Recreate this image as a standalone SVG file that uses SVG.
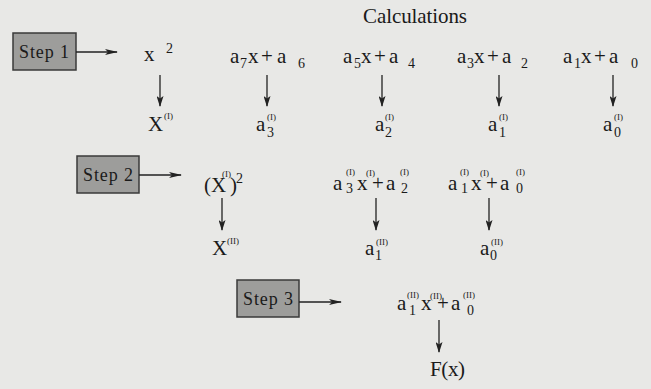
<svg xmlns="http://www.w3.org/2000/svg" width="651" height="389" viewBox="0 0 651 389">
<defs>
<marker id="h" viewBox="0 0 13 6" refX="12" refY="3" markerWidth="13" markerHeight="6" markerUnits="userSpaceOnUse" orient="auto"><path d="M0,0 L13,3 L0,6 L3,3 z" fill="#222"/></marker>
<marker id="d" viewBox="0 0 11 7" refX="10" refY="3.5" markerWidth="11" markerHeight="7" markerUnits="userSpaceOnUse" orient="auto"><path d="M0,0 L11,3.5 L0,7 L2.5,3.5 z" fill="#222"/></marker>
</defs>
<rect width="651" height="389" fill="#e8e8e6"/>
<g font-family="Liberation Serif" fill="#1a1a1a">
<text id="title" font-size="21" x="363" y="23" textLength="104">Calculations</text>

<g id="step1"><rect fill="#9d9d9b" stroke="#3a3a3a" stroke-width="1.5" x="13" y="33" width="63" height="37"/><text font-size="18" x="19" y="58" textLength="50">Step 1</text></g>
<g id="step2"><rect fill="#9d9d9b" stroke="#3a3a3a" stroke-width="1.5" x="77" y="156" width="62" height="37"/><text font-size="18" x="83" y="181" textLength="50">Step 2</text></g>
<g id="step3"><rect fill="#9d9d9b" stroke="#3a3a3a" stroke-width="1.5" x="237" y="280" width="62" height="37"/><text font-size="18" x="243" y="305" textLength="50">Step 3</text></g>

<g id="r1a" font-size="21"><text x="144" y="61">x</text><text font-size="14" x="166" y="53">2</text></g>
<g id="r1b" font-size="21"><text x="230" y="63">a</text><text font-size="14" x="240" y="68">7</text><text x="248" y="63">x</text><text x="261" y="63">+</text><text x="277" y="63">a</text><text font-size="14" x="298" y="68">6</text></g>
<g id="r1c" font-size="21"><text x="343" y="63">a</text><text font-size="14" x="354" y="68">5</text><text x="361" y="63">x</text><text x="374" y="63">+</text><text x="389" y="63">a</text><text font-size="14" x="408" y="68">4</text></g>
<g id="r1d" font-size="21"><text x="457" y="63">a</text><text font-size="14" x="467" y="68">3</text><text x="474" y="63">x</text><text x="487" y="63">+</text><text x="502" y="63">a</text><text font-size="14" x="521" y="68">2</text></g>
<g id="r1e" font-size="21"><text x="563" y="63">a</text><text font-size="14" x="574" y="68">1</text><text x="581" y="63">x</text><text x="594" y="63">+</text><text x="609" y="63">a</text><text font-size="14" x="631" y="68">0</text></g>

<g id="r2a" font-size="21"><text x="148" y="131">X</text><text font-size="9" x="164" y="119">(I)</text></g>
<g id="r2b" font-size="21"><text x="256" y="131">a</text><text font-size="14" x="267" y="137">3</text><text font-size="9" x="267" y="120">(I)</text></g>
<g id="r2c" font-size="21"><text x="375" y="131">a</text><text font-size="14" x="385" y="137">2</text><text font-size="9" x="385" y="120">(I)</text></g>
<g id="r2d" font-size="21"><text x="488" y="131">a</text><text font-size="14" x="499" y="137">1</text><text font-size="9" x="499" y="120">(I)</text></g>
<g id="r2e" font-size="21"><text x="603" y="131">a</text><text font-size="14" x="614" y="137">0</text><text font-size="9" x="614" y="120">(I)</text></g>

<g id="s2a" font-size="21"><text x="204" y="192">(X</text><text font-size="9" x="222" y="177">(I)</text><text x="230" y="192">)</text><text font-size="14" x="236" y="183">2</text></g>
<g id="s2b" font-size="21"><text x="333" y="190">a</text><text font-size="9" x="346" y="175">(I)</text><text font-size="14" x="346" y="193">3</text><text x="357" y="190">x</text><text font-size="9" x="366" y="176">(I)</text><text x="372" y="190">+</text><text x="386" y="190">a</text><text font-size="9" x="400" y="175">(I)</text><text font-size="14" x="401" y="193">2</text></g>
<g id="s2c" font-size="21"><text x="448" y="190">a</text><text font-size="9" x="460" y="175">(I)</text><text font-size="14" x="461" y="193">1</text><text x="471" y="190">x</text><text font-size="9" x="480" y="176">(I)</text><text x="486" y="190">+</text><text x="500" y="190">a</text><text font-size="9" x="516" y="175">(I)</text><text font-size="14" x="516" y="193">0</text></g>
<g id="s2d" font-size="21"><text x="212" y="255">X</text><text font-size="9" x="227" y="244">(II)</text></g>
<g id="s2e" font-size="21"><text x="365" y="255">a</text><text font-size="14" x="375" y="260">1</text><text font-size="9" x="376" y="245">(II)</text></g>
<g id="s2f" font-size="21"><text x="480" y="255">a</text><text font-size="14" x="490" y="260">0</text><text font-size="9" x="491" y="245">(II)</text></g>

<g id="s3a" font-size="21"><text x="397" y="310">a</text><text font-size="9" x="407" y="298">(II)</text><text font-size="14" x="409" y="315">1</text><text x="421" y="310">x</text><text font-size="9" x="430" y="299">(II)</text><text x="437" y="310">+</text><text x="451" y="310">a</text><text font-size="9" x="463" y="298">(II)</text><text font-size="14" x="467" y="315">0</text></g>
<g id="s3b" font-size="21"><text x="430" y="376" textLength="35">F(x)</text></g>
</g>

<g id="connectors" stroke="#222" stroke-width="1.3" fill="none">
<line x1="76" y1="52" x2="117" y2="52" marker-end="url(#h)"/>
<line x1="139" y1="175" x2="181" y2="175" marker-end="url(#h)"/>
<line x1="299" y1="302" x2="341" y2="302" marker-end="url(#h)"/>
<line x1="160" y1="75" x2="160" y2="106" marker-end="url(#d)"/>
<line x1="267" y1="75" x2="267" y2="106" marker-end="url(#d)"/>
<line x1="382" y1="75" x2="382" y2="106" marker-end="url(#d)"/>
<line x1="499" y1="75" x2="499" y2="106" marker-end="url(#d)"/>
<line x1="613" y1="75" x2="613" y2="106" marker-end="url(#d)"/>
<line x1="222" y1="198" x2="222" y2="230" marker-end="url(#d)"/>
<line x1="376" y1="198" x2="376" y2="230" marker-end="url(#d)"/>
<line x1="489" y1="198" x2="489" y2="230" marker-end="url(#d)"/>
<line x1="439" y1="320" x2="439" y2="352" marker-end="url(#d)"/>
</g>
</svg>
